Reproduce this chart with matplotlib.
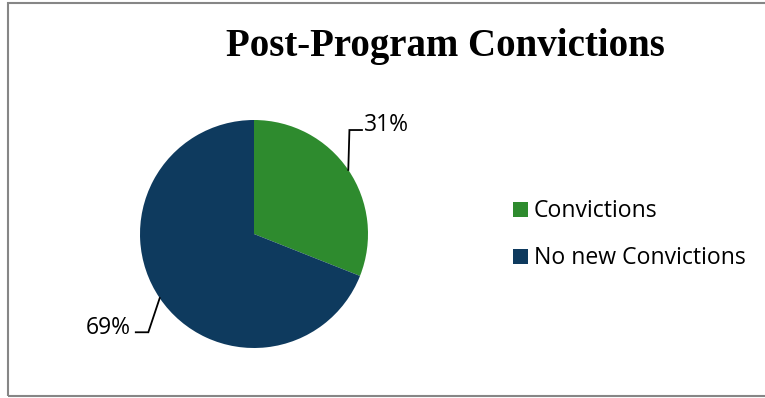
import numpy as np
import matplotlib
matplotlib.use("Agg")
import matplotlib.pyplot as plt
from matplotlib.patches import Rectangle

labels = ["Convictions", "No new Convictions"]
values = [31, 69]
colors = ["#2E8B2E", "#0E3A5E"]

W, H = 765, 398
fig = plt.figure(figsize=(W / 100, H / 100), dpi=100)

# outer chart border
fig.patches.append(Rectangle((7.5 / W, 1 - 396 / H), 1.0, (396 - 2.5) / H,
                             transform=fig.transFigure, fill=False,
                             edgecolor="#868686", linewidth=1.5))

# pie axes: centre (254, 234), radius 114 px
cx, cy, r = 254, 234, 114
ax = fig.add_axes([(cx - r) / W, 1 - (cy + r) / H, 2 * r / W, 2 * r / H])
wedges, _ = ax.pie(values, colors=colors, startangle=90, counterclock=False,
                   radius=1, wedgeprops=dict(linewidth=0))
ax.set_xlim(-1, 1)
ax.set_ylim(-1, 1)
ax.set_aspect("equal")
ax.axis("off")

# data labels with leader lines
offsets = [((0.01, 0.35), 0.11), ((-0.10, -0.30), -0.11)]
for w, v, (d, hl) in zip(wedges, values, offsets):
    ang = np.deg2rad((w.theta1 + w.theta2) / 2)
    x0, y0 = np.cos(ang), np.sin(ang)
    x1, y1 = x0 + d[0], y0 + d[1]
    x2 = x1 + hl
    ax.plot([x0, x1, x2], [y0, y1, y1], color="black", lw=1.3,
            clip_on=False, solid_joinstyle="miter")
    ha = "left" if hl > 0 else "right"
    ax.text(x2 + (0.02 if hl > 0 else -0.04), y1 + 0.04, f"{v}%",
            ha=ha, va="center", fontsize=16.5, family="Open Sans",
            clip_on=False)

fig.text(445 / W, 1 - 56 / H, "Post-Program Convictions", ha="center",
         va="baseline", fontsize=28, fontweight="bold", family="Liberation Serif")

# legend
for i, (lab, col) in enumerate(zip(labels, colors)):
    ly = 209.5 + i * 47
    fig.patches.append(Rectangle((513 / W, 1 - (ly + 7.5) / H), 15 / W, 15 / H,
                                 transform=fig.transFigure, facecolor=col,
                                 edgecolor="none"))
    fig.text(534 / W, 1 - (ly + 7.5) / H, lab, ha="left", va="baseline",
             fontsize=16.6, family="Open Sans")

fig.savefig("out.png", dpi=100)
